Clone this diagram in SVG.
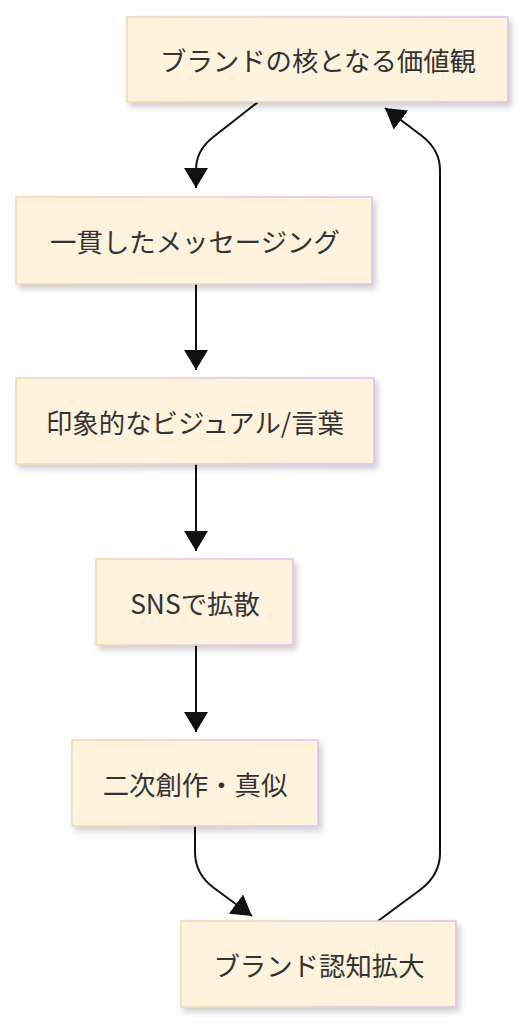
<svg xmlns="http://www.w3.org/2000/svg" width="524" height="1024" viewBox="0 0 524 1024">
<style>
.node rect{fill:#fff3de;stroke:url(#bd);stroke-width:1.5;filter:url(#sh)}
.node text{font-family:"Noto Sans CJK JP","Noto Sans",sans-serif;font-size:26.4px;fill:#333;text-anchor:middle;dominant-baseline:central}
.edges path{fill:none;stroke:#111;stroke-width:2;marker-end:url(#ah)}
</style>
<defs>
<linearGradient id="bd" x1="0" y1="0" x2="1" y2="0">
<stop offset="0" stop-color="#efd9ae"/>
<stop offset="1" stop-color="#dcbff0"/>
</linearGradient>
<filter id="sh" x="-10%" y="-20%" width="130%" height="150%">
<feDropShadow dx="3" dy="4" stdDeviation="3" flood-color="#000" flood-opacity="0.2"/>
</filter>
<marker id="ah" markerUnits="userSpaceOnUse" viewBox="0 0 20 24" refX="20" refY="12" markerWidth="20" markerHeight="24" orient="auto">
<path d="M0,0 L20,12 L0,24 z" fill="#111"/>
</marker>
</defs>
<g class="edges">
<path d="M258,102 L212,138 Q196,151 196,170 L196,188"/>
<path d="M196,284 L196,370"/>
<path d="M196,464 L196,551"/>
<path d="M196,645 L196,732"/>
<path d="M195,826 L195,852 Q195,874 214,888 L252,916"/>
<path d="M378,921 L420,890 Q440,875 440,853 L440,170 Q440,150 422,136 L385,108"/>
</g>
<g id="n1" class="node"><rect x="127" y="17" width="381" height="85"/><text x="318" y="59">ブランドの核となる価値観</text></g>
<g id="n2" class="node"><rect x="16" y="197" width="356" height="87"/><text x="195" y="240">一貫したメッセージング</text></g>
<g id="n3" class="node"><rect x="16" y="378" width="358" height="86"/><text x="195" y="421">印象的なビジュアル/言葉</text></g>
<g id="n4" class="node"><rect x="96" y="559" width="197" height="86"/><text x="195" y="602">SNSで拡散</text></g>
<g id="n5" class="node"><rect x="72" y="740" width="246" height="86"/><text x="195" y="783">二次創作・真似</text></g>
<g id="n6" class="node"><rect x="181" y="921" width="275" height="86"/><text x="319" y="964">ブランド認知拡大</text></g>
</svg>
